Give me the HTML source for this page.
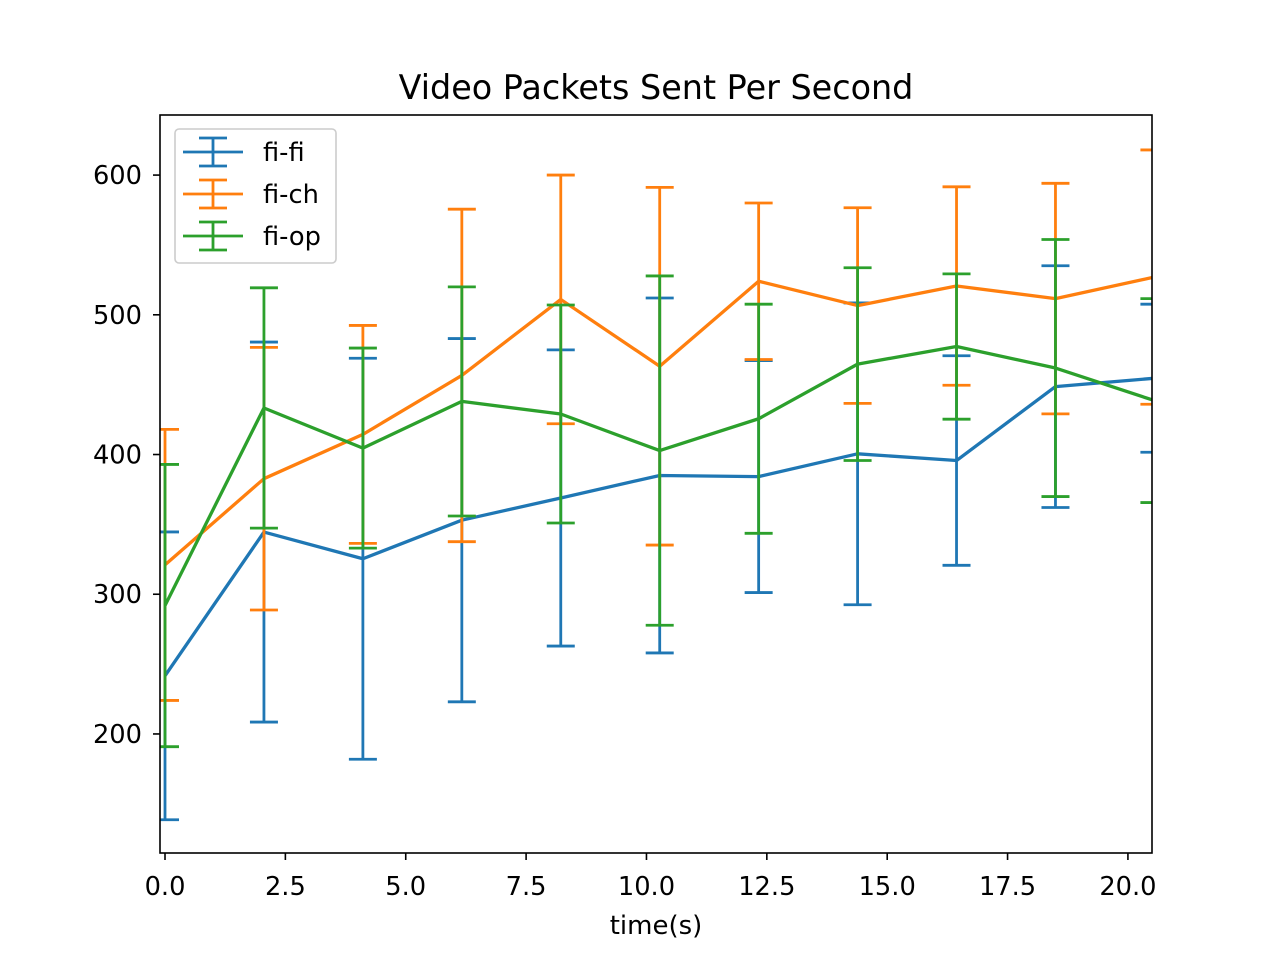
<!DOCTYPE html>
<html><head><meta charset="utf-8"><style>
body{margin:0;background:#fff;}
svg text{font-family:"DejaVu Sans","Liberation Sans",sans-serif;fill:#000;}
</style></head><body>
<svg id="chart" width="1280" height="960" xmlns="http://www.w3.org/2000/svg">
<rect width="1280" height="960" fill="#fff"/>
<text x="656" y="99" font-size="33.4" text-anchor="middle">Video Packets Sent Per Second</text>
<defs><clipPath id="clip"><rect x="160" y="115" width="992" height="738"/></clipPath></defs>
<g id="plot" clip-path="url(#clip)"></g>
<rect x="160" y="115" width="992" height="738" fill="none" stroke="#000" stroke-width="1.6"/>
<g id="axes"></g>
<text x="656" y="934" font-size="26" text-anchor="middle">time(s)</text>
<g>
<rect x="175" y="129" width="161" height="134" rx="4" fill="#fff" fill-opacity="0.8" stroke="#ccc" stroke-width="1.6"/>
<g id="legend"></g>
</g>
</svg>
<script>
const times = [0,2.055,4.11,6.165,8.22,10.275,12.33,14.385,16.44,18.495,20.55];
const seriesNames = ["fi-fi","fi-ch","fi-op"];
const fifiMean = [241.6,344.5,325.4,353,368.9,385,384.2,400.5,395.7,448.6,454.6];
const fifiErr  = [103,136,143.5,130,106,127,83,108,75,86.5,53];
const fichMean = [321,382.7,414.4,456.6,511,463.2,524,506.6,520.6,511.6,527];
const fichErr  = [97,94,78,119,89,128,56,70,71,82.5,91];
const fiopMean = [291.9,433.3,404.6,438,429,402.8,425.6,464.7,477.3,461.9,438.6];
const fiopErr  = [101,86,71.6,82,78,125,82,69,52,92,73];
const xTicks = [0,2.5,5,7.5,10,12.5,15,17.5,20];
const xTickLabels = ["0.0","2.5","5.0","7.5","10.0","12.5","15.0","17.5","20.0"];
const yTicks = [200,300,400,500,600];
const yTickLabels = ["200","300","400","500","600"];

const colors = ["#1f77b4","#ff7f0e","#2ca02c"];
const NS="http://www.w3.org/2000/svg";
const X0=160,X1=1152,Y0=853,Y1=115, xmin=-0.104,xmax=20.5,ymin=114.8,ymax=643;
function sx(v){return X0+(v-xmin)/(xmax-xmin)*(X1-X0);}
function sy(v){return Y0-(v-ymin)/(ymax-ymin)*(Y0-Y1);}
function mk(tag,attrs,parent){const e=document.createElementNS(NS,tag);for(const k in attrs)e.setAttribute(k,attrs[k]);parent.appendChild(e);return e;}
const plot=document.getElementById('plot'),axes=document.getElementById('axes'),legend=document.getElementById('legend');
const all=[[fifiMean,fifiErr],[fichMean,fichErr],[fiopMean,fiopErr]];
all.forEach((s,si)=>{
  const [m,er]=s;
  const g=mk('g',{},plot);
  
  
  const pts=times.map((t,i)=>sx(t)+','+sy(m[i])).join(' ');
  const pl=mk('polyline',{points:pts,fill:'none',stroke:colors[si],'stroke-width':3.3,'stroke-linejoin':'round'},g);
  
  
  times.forEach((t,i)=>{
    const x=sx(t),yt=sy(m[i]+er[i]),yb=sy(m[i]-er[i]);
    const eb=mk('path',{d:`M${x},${yt}V${yb}M${x-14},${yt}H${x+14}M${x-14},${yb}H${x+14}`,stroke:colors[si],'stroke-width':2.8,fill:'none'},g);
    
    
  });
});
xTicks.forEach((t,i)=>{
  const x=sx(t);
  const tk=mk('line',{x1:x,x2:x,y1:853,y2:860,stroke:'#000','stroke-width':1.6},axes);
  
  
  const tx=mk('text',{x:x,y:895,'font-size':25.7,'text-anchor':'middle'},axes);
  tx.textContent=xTickLabels[i];
  
  
});
yTicks.forEach((t,i)=>{
  const y=sy(t);
  const tk=mk('line',{x1:153,x2:160,y1:y,y2:y,stroke:'#000','stroke-width':1.6},axes);
  
  
  const tx=mk('text',{x:142,y:y+9,'font-size':25.7,'text-anchor':'end'},axes);
  tx.textContent=yTickLabels[i];
  
  
});
seriesNames.forEach((n,i)=>{
  const y=152+i*42;
  const g=mk('g',{},legend);
  
  
  mk('path',{d:`M183,${y}H243M213,${y-14}V${y+14}M199,${y-14}H227M199,${y+14}H227`,stroke:colors[i],'stroke-width':2.8,fill:'none'},g);
  const tx=mk('text',{x:263,y:y+9,'font-size':25.7},g);
  tx.textContent=n;
});
</script>
</body></html>
